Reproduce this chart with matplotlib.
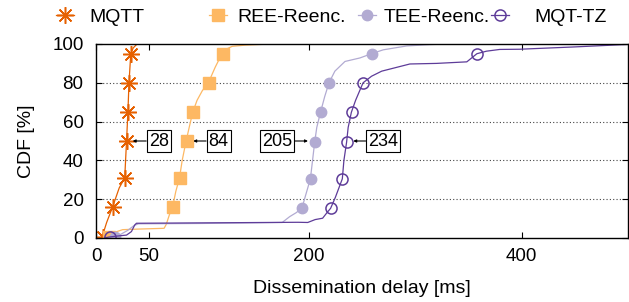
#!/usr/bin/env python3

import matplotlib
matplotlib.use('Agg')
import matplotlib.pyplot as plt
from matplotlib.lines import Line2D

plt.rcParams['font.family'] = ['Liberation Sans', 'DejaVu Sans']
plt.rcParams['font.size'] = 14

# series names, as in the legend
labels = ['MQTT', 'REE-Reenc.', 'TEE-Reenc.', 'MQT-TZ']

# CDF curves (delay in ms, cumulative %)
mqtt_x = [4, 6, 10, 15.6, 21.8, 27, 28.7, 30, 31, 32.7, 35, 38.6]
mqtt_y = [0, 1, 8, 16, 25.8, 31, 50, 65, 80, 95, 98, 100]

ree_x = [8, 12, 18, 25, 40, 64, 66, 69, 72, 75, 78.5, 81, 84.7, 88, 91, 95, 100, 105.6,
         112, 118.4, 123, 128, 140, 164]
ree_y = [0, 1.5, 3, 4.3, 4.6, 5, 7, 12, 16, 24, 31, 40, 50, 58, 65, 71, 76, 80,
         88, 95, 97.5, 98.8, 99.4, 100]

tee_x = [13, 18, 22, 30, 36, 40, 100, 175, 182, 188, 193.5, 197, 201.5, 205.5, 207.5,
         211, 215, 219, 224.5, 234, 248, 259, 270, 292, 314, 330]
tee_y = [0, 0.6, 1.5, 4, 6.5, 7.3, 7.5, 8, 11, 13, 15.3, 22, 30.5, 49.3, 57,
         64.8, 73, 80, 86, 91, 92.8, 95, 97, 99, 99.7, 100]

tz_x = [8, 12, 20, 28.7, 33.3, 36.4, 38, 100, 190, 199, 206, 213, 217, 220.5, 225,
        231.5, 233, 235.5, 237, 240, 244, 251, 259, 268.5, 295, 320, 348.5, 358, 367,
        379.5, 398, 450, 500]
tz_y = [0, 0.5, 1, 1.5, 3.3, 6.7, 7.6, 7.8, 8.1, 8, 9.5, 10.2, 13, 15.3, 21,
        30.5, 40, 49.3, 57, 64.8, 71, 80, 83.4, 86, 89.7, 90, 90.8, 95, 96.3,
        97.2, 97.3, 98.5, 99.8]

# marker positions on each curve
mqtt_mx = [6.5, 15.6, 27, 28.7, 30, 31, 32.7]
mqtt_my = [0.7, 16, 31, 50, 65, 80, 95]
ree_mx = [12.5, 72.4, 78.9, 85.2, 91.5, 106.2, 119]
ree_my = [0.5, 16, 31, 50, 65, 80, 95]
tee_mx = [17.5, 193.9, 201.7, 205.8, 211.2, 219.2, 259]
tee_my = [0.3, 15.3, 30.5, 49.3, 64.8, 80, 95]
tz_mx = [13, 220.5, 231.5, 235.6, 240.2, 251.2, 357.8]
tz_my = [0.7, 15.3, 30.5, 49.3, 64.8, 80, 95]

# median annotations: label, arrow end, box centre
med_text = ['28', '84', '205', '234']
med_end = [34.5, 91.4, 199.2, 241.8]
med_box = [59, 115.3, 170.1, 270]

colors = ['#e66101', '#fdb863', '#b2abd2', '#5e3c99']
styles = [
    dict(marker=(8, 2, 0), ms=12, mew=1.1, mfc=colors[0], mec=colors[0]),
    dict(marker='s', ms=8, mfc=colors[1], mec=colors[1]),
    dict(marker='o', ms=7.5, mfc=colors[2], mec=colors[2]),
    dict(marker='o', ms=8, mfc='none', mec=colors[3], mew=1.1),
]

curves = [(mqtt_x, mqtt_y), (ree_x, ree_y), (tee_x, tee_y), (tz_x, tz_y)]
marks = [(mqtt_mx, mqtt_my), (ree_mx, ree_my), (tee_mx, tee_my), (tz_mx, tz_my)]

fig = plt.figure(figsize=(6.29, 3.02), dpi=100)
ax = fig.add_axes([96 / 629, 64 / 302, 532 / 629, 194 / 302])

for (cx, cy), (mx, my), c, st in zip(curves, marks, colors, styles):
    ax.plot(cx, cy, color=c, lw=0.9)
    ax.plot(mx, my, linestyle='none', **st)

for t, xe, xb in zip(med_text, med_end, med_box):
    ax.annotate(t, xy=(xe, 50), xytext=(xb, 50), textcoords='data',
                ha='center', va='center', fontsize=13, zorder=5,
                bbox=dict(boxstyle='square,pad=0.12', fc='white', ec='black', lw=0.8),
                arrowprops=dict(arrowstyle='-|>', color='black', lw=0.8,
                                mutation_scale=4, shrinkA=0, shrinkB=0))

ax.set_xlim(0, 500)
ax.set_ylim(0, 100)
ax.set_xticks([0, 50, 200, 400])
ax.set_yticks([0, 20, 40, 60, 80, 100])
for y in [20, 40, 60, 80]:
    ax.axhline(y, color='#444444', lw=0.8, linestyle=(0, (1, 2)), zorder=0)
ax.tick_params(direction='in', top=True, right=True, length=4, width=0.8, labelsize=13.5)
ax.tick_params(axis='x', pad=7)
ax.tick_params(axis='y', pad=9)
for s in ax.spines.values():
    s.set_linewidth(1.0)

ax.set_xlabel('Dissemination delay [ms]', fontsize=14)
ax.set_ylabel('CDF [%]', fontsize=14)
ax.xaxis.set_label_coords(0.5, -0.215)
ax.yaxis.set_label_coords(-0.115, 0.5)

# legend entries placed one by one along the top (pixel positions)
em = 14 * 100 / 72
hl = 0.9
text_start = [89, 237, 384, 534]
marker_at = [65, 218, 367, 500]
for lab, c, st, t, m in zip(labels, colors, styles, text_start, marker_at):
    h = Line2D([0], [0], color=c, lw=0.9, **st)
    gap = t - m - hl * em / 2
    fig.legend(handles=[h], labels=[lab], loc='center left',
               bbox_to_anchor=((t - gap - hl * em) / 629, 1 - 17 / 302),
               frameon=False, borderpad=0, borderaxespad=0,
               handlelength=hl, handletextpad=gap / em, fontsize=14)

plt.savefig('out.png', dpi=100)
